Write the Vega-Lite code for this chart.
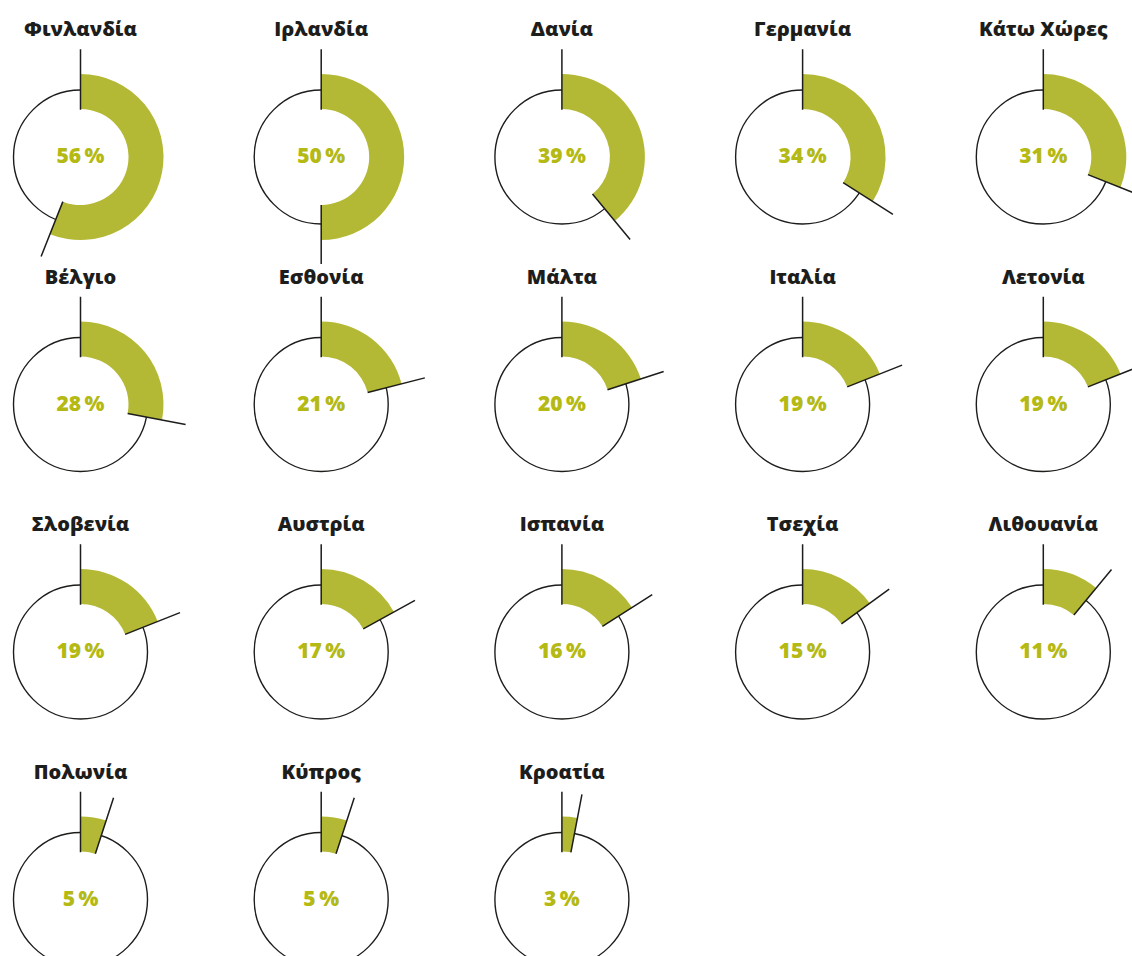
{
  "$schema": "https://vega.github.io/schema/vega-lite/v6.json",
  "padding": {"left": 0, "top": 20, "right": 0, "bottom": 0},
  "bounds": "flush",
  "background": "white",
  "data": {
    "values": [
      {"country": "Φινλανδία", "pct": 56},
      {"country": "Ιρλανδία", "pct": 50},
      {"country": "Δανία", "pct": 39},
      {"country": "Γερμανία", "pct": 34},
      {"country": "Κάτω Χώρες", "pct": 31},
      {"country": "Βέλγιο", "pct": 28},
      {"country": "Εσθονία", "pct": 21},
      {"country": "Μάλτα", "pct": 20},
      {"country": "Ιταλία", "pct": 19},
      {"country": "Λετονία", "pct": 19},
      {"country": "Σλοβενία", "pct": 19},
      {"country": "Αυστρία", "pct": 17},
      {"country": "Ισπανία", "pct": 16},
      {"country": "Τσεχία", "pct": 15},
      {"country": "Λιθουανία", "pct": 11},
      {"country": "Πολωνία", "pct": 5},
      {"country": "Κύπρος", "pct": 5},
      {"country": "Κροατία", "pct": 3}
    ]
  },
  "transform": [{"calculate": "datum.pct + '\u2009%'", "as": "label"}],
  "facet": {
    "field": "country",
    "type": "nominal",
    "title": null,
    "sort": ["Φινλανδία", "Ιρλανδία", "Δανία", "Γερμανία", "Κάτω Χώρες", "Βέλγιο", "Εσθονία", "Μάλτα", "Ιταλία", "Λετονία", "Σλοβενία", "Αυστρία", "Ισπανία", "Τσεχία", "Λιθουανία", "Πολωνία", "Κύπρος", "Κροατία"],
    "header": {
      "labelFont": "Open Sans",
      "labelFontSize": 20,
      "labelFontWeight": 800,
      "labelColor": "#1d1d1b",
      "labelPadding": 7
    }
  },
  "columns": 5,
  "spacing": {"row": 33.5, "column": 79.7},
  "spec": {
    "width": 161,
    "height": 214,
    "layer": [
      {
        "mark": {"type": "point", "shape": "circle", "size": 17956, "filled": false, "fill": "white", "stroke": "#1d1d1b", "strokeWidth": 1.4, "opacity": 1, "fillOpacity": 1},
        "encoding": {}
      },
      {
        "mark": {"type": "arc", "innerRadius": 48, "outerRadius": 83, "fill": "#b4b935"},
        "encoding": {
          "theta": {"field": "pct", "type": "quantitative", "stack": null, "scale": {"domain": [0, 100], "range": [0, 6.283185307]}}
        }
      },
      {
        "mark": {"type": "arc", "innerRadius": 48, "outerRadius": 107, "theta": 0.0001, "theta2": 0, "filled": false, "color": "#1d1d1b", "strokeWidth": 1.5},
        "encoding": {}
      },
      {
        "mark": {"type": "arc", "innerRadius": 48, "outerRadius": 107, "filled": false, "color": "#1d1d1b", "strokeWidth": 1.5},
        "encoding": {
          "theta": {"field": "pct", "type": "quantitative", "stack": null},
          "theta2": {"field": "pct"}
        }
      },
      {
        "mark": {"type": "text", "font": "Open Sans", "fontSize": 21, "fontWeight": 800, "color": "#b4b914"},
        "encoding": {"text": {"field": "label"}}
      }
    ]
  },
  "config": {"view": {"stroke": "transparent"}}
}
